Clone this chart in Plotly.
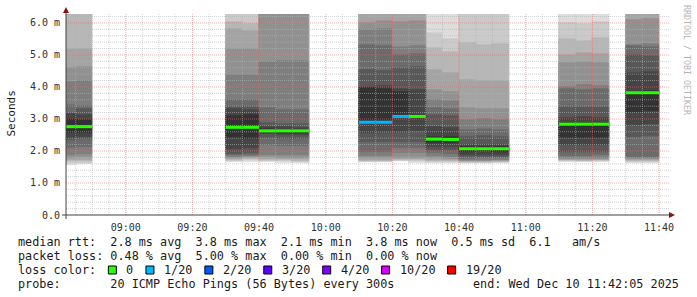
import plotly.graph_objects as go

# ---------------- data ----------------
interval_start = ["08:40", "08:45", "09:30", "09:35", "09:40", "09:45", "09:50",
                  "10:10", "10:15", "10:20", "10:25", "10:30", "10:35",
                  "10:40", "10:45", "10:50", "11:10", "11:15", "11:20",
                  "11:30", "11:35"]

# median rtt per 5-minute step (ms)
median_ms = [2.76, 2.76, 2.74, 2.74, 2.63, 2.63, 2.63,
             2.90, 2.90, 3.08, 3.08, 2.37, 2.36,
             2.07, 2.07, 2.07, 2.84, 2.84, 2.84,
             3.82, 3.82]

# lost pings (out of 20) per step
lost_pings = [0, 0, 0, 0, 0, 0, 0,
              1, 1, 1, 0, 0, 0,
              0, 0, 0, 0, 0, 0,
              0, 0]

# 20 sorted ping times per step (ms); None = lost ping
pings_0840 = [1.56, 1.62, 1.68, 1.72, 1.78, 1.88, 2.10, 2.33, 2.42, 2.55, 3.00, 3.15, 3.20, 3.45, 4.15, 4.60, 5.20, 6.60, 7.40, 8.90]
pings_0845 = [1.58, 1.63, 1.68, 1.73, 1.80, 1.90, 2.12, 2.36, 2.44, 2.56, 2.98, 3.12, 3.30, 3.42, 4.18, 4.62, 5.18, 6.55, 7.30, 8.70]
pings_0930 = [1.65, 1.70, 1.73, 1.76, 1.79, 1.82, 1.86, 1.92, 2.05, 2.40, 3.10, 3.30, 3.36, 3.60, 4.38, 5.20, 5.80, 6.02, 6.90, 8.10]
pings_0935 = [1.66, 1.71, 1.74, 1.77, 1.80, 1.83, 1.87, 1.94, 2.08, 2.38, 3.12, 3.28, 3.36, 3.58, 4.36, 5.18, 5.76, 5.96, 6.50, 7.90]
pings_0940 = [1.65, 1.69, 1.72, 1.75, 1.80, 1.88, 2.19, 2.40, 2.52, 2.58, 2.68, 2.76, 2.88, 3.34, 4.78, 6.40, 6.90, 7.50, 8.20, 9.00]
pings_0945 = [1.64, 1.68, 1.71, 1.75, 1.79, 1.86, 2.17, 2.38, 2.50, 2.57, 2.67, 2.74, 2.84, 3.28, 4.82, 6.45, 7.00, 7.60, 8.30, 9.10]
pings_0950 = [1.63, 1.67, 1.70, 1.74, 1.78, 1.86, 2.16, 2.37, 2.49, 2.56, 2.66, 2.73, 2.83, 3.27, 4.81, 6.50, 7.10, 7.70, 8.40, 9.20]
pings_1010 = [1.62, 1.65, 1.68, 1.72, 1.78, 1.84, 1.97, 2.28, 2.56, 2.90, 3.96, 4.00, 4.53, 5.31, 5.78, 6.00, 6.60, 7.40, 8.50, None]
pings_1015 = [1.63, 1.66, 1.69, 1.73, 1.79, 1.85, 1.98, 2.27, 2.58, 2.91, 3.95, 4.02, 4.50, 5.28, 5.80, 6.05, 6.70, 7.50, 8.60, None]
pings_1020 = [1.66, 1.69, 1.72, 1.75, 1.78, 1.94, 2.10, 2.28, 2.60, 3.08, 3.85, 3.95, 4.60, 5.00, 5.25, 6.03, 6.80, 7.60, 8.80, None]
pings_1025 = [1.64, 1.68, 1.71, 1.74, 1.78, 1.93, 2.09, 2.27, 2.62, 3.02, 3.14, 3.90, 4.62, 5.02, 5.28, 6.05, 6.90, 7.70, 8.90, 9.60]
pings_1030 = [1.62, 1.66, 1.69, 1.72, 1.78, 1.84, 1.94, 2.03, 2.13, 2.25, 2.44, 2.75, 3.12, 3.34, 3.60, 3.90, 4.53, 5.22, 5.69, 6.90]
pings_1035 = [1.62, 1.65, 1.68, 1.71, 1.76, 1.82, 1.92, 2.02, 2.12, 2.24, 2.44, 2.72, 3.08, 3.30, 3.55, 3.85, 4.45, 5.10, 5.50, 6.80]
pings_1040 = [1.62, 1.64, 1.66, 1.68, 1.70, 1.72, 1.76, 1.80, 1.88, 1.98, 2.12, 2.18, 2.44, 2.66, 2.97, 3.34, 4.22, 5.38, 6.60, 7.50]
pings_1045 = [1.62, 1.64, 1.66, 1.68, 1.70, 1.73, 1.77, 1.81, 1.89, 1.99, 2.13, 2.20, 2.46, 2.68, 3.00, 3.30, 4.18, 5.30, 6.60, 7.60]
pings_1050 = [1.63, 1.65, 1.67, 1.69, 1.71, 1.73, 1.77, 1.81, 1.88, 1.98, 2.12, 2.19, 2.45, 2.67, 2.98, 3.32, 4.20, 5.34, 6.70, 7.80]
pings_1110 = [1.66, 1.69, 1.71, 1.73, 1.75, 1.78, 1.84, 1.97, 2.19, 2.40, 2.88, 3.03, 3.38, 3.95, 4.00, 4.75, 5.00, 5.50, 6.00, 6.90]
pings_1115 = [1.65, 1.68, 1.70, 1.72, 1.74, 1.77, 1.85, 1.98, 2.20, 2.42, 2.87, 3.05, 3.36, 3.92, 4.05, 4.78, 5.05, 5.45, 5.98, 7.10]
pings_1120 = [1.66, 1.69, 1.71, 1.73, 1.75, 1.78, 1.86, 1.96, 2.18, 2.41, 2.86, 3.04, 3.37, 3.94, 4.02, 4.74, 5.02, 5.52, 6.02, 7.00]
pings_1130 = [1.62, 1.65, 1.68, 1.71, 1.74, 1.77, 1.81, 2.44, 2.81, 3.22, 3.84, 4.44, 5.00, 5.28, 5.31, 6.10, 6.60, 7.20, 8.10, 9.30]
pings_1135 = [1.63, 1.66, 1.69, 1.72, 1.75, 1.78, 1.82, 2.46, 2.83, 3.24, 3.86, 4.46, 4.98, 5.26, 5.33, 6.12, 6.70, 7.30, 8.20, 9.40]

smoke = [pings_0840, pings_0845, pings_0930, pings_0935, pings_0940, pings_0945,
         pings_0950, pings_1010, pings_1015, pings_1020, pings_1025, pings_1030,
         pings_1035, pings_1040, pings_1045, pings_1050, pings_1110, pings_1115,
         pings_1120, pings_1130, pings_1135]

loss_levels = [0, 1, 2, 3, 4, 10, 19]
loss_labels = ["0", "1/20", "2/20", "3/20", "4/20", "10/20", "19/20"]
loss_colors = ["#26ff00", "#00b8ff", "#0059ff", "#5e00ff", "#7e00ff", "#dd00ff", "#ff0000"]

y_tick_vals = [0, 1, 2, 3, 4, 5, 6]
y_tick_text = ["0.0", "1.0 m", "2.0 m", "3.0 m", "4.0 m", "5.0 m", "6.0 m"]
x_tick_text = ["09:00", "09:20", "09:40", "10:00", "10:20", "10:40", "11:00", "11:20", "11:40"]

end_time = "11:42:05"
line_rtt = "median rtt:  2.8 ms avg  3.8 ms max  2.1 ms min  3.8 ms now  0.5 ms sd  6.1   am/s"
line_loss = "packet loss: 0.48 % avg  5.00 % max  0.00 % min  0.00 % now"
line_color = "loss color:"
line_probe = "probe:       20 ICMP Echo Pings (56 Bytes) every 300s"
line_end = "end: Wed Dec 10 11:42:05 2025"
y_label = "Seconds"
watermark = "RRDTOOL / TOBI OETIKER"

# ---------------- geometry ----------------
W, H = 697, 297
PL, PR, PT, PB = 66, 669, 14, 215
PX_PER_MIN = 600 / 180.0
Y_MAX = 6.28
STEP = 5
MONO = "DejaVu Sans Mono"
FS = 11.8
ADV = 0.602 * FS


def hm(s):
    p = [int(v) for v in s.split(":")]
    return p[0] * 60 + p[1] + (p[2] / 60.0 if len(p) > 2 else 0)


x_end = hm(end_time)
x_start = x_end - 180
x_right = x_start + (PR - PL) / PX_PER_MIN


def px(x):
    return (x - PL) / (PR - PL)


def py(y):
    return (PB - y) / (PB - PT)


def nbsp(s):
    return s.replace(" ", "\u00a0")


fig = go.Figure()

# smoke bands
for k in range(1, 11):
    shade = int(190 / 10 * (10 - k)) + 50
    col = f"rgb({shade},{shade},{shade})"
    xs, bases, hs = [], [], []
    for start, p in zip(interval_start, smoke):
        lo, hi = p[k - 1], p[20 - k]
        if lo is None or hi is None:
            continue
        xs.append(hm(start) + STEP / 2)
        bases.append(lo)
        hs.append(hi - lo)
    fig.add_trace(go.Bar(x=xs, y=hs, base=bases, width=STEP,
                         marker=dict(color=col, line=dict(color=col, width=0.6)),
                         hoverinfo="skip", showlegend=False))

# grid lines (drawn over the smoke, like rrdtool)
minor_x = [t for t in range(525, 705, 5) if t % 20 != 0 and x_start < t < x_right]
major_x = [t for t in range(540, 705, 20)]
minor_y = [round(0.2 * i, 1) for i in range(1, 32) if i % 5 != 0]
major_y = [1, 2, 3, 4, 5, 6]


def grid_xy(vx, vy):
    gx, gy = [], []
    for t in vx:
        gx += [t, t, None]
        gy += [0, Y_MAX, None]
    for v in vy:
        gx += [x_start, x_right, None]
        gy += [v, v, None]
    return gx, gy


gx, gy = grid_xy(minor_x, minor_y)
fig.add_trace(go.Scatter(x=gx, y=gy, mode="lines",
                         line=dict(color="rgba(180,180,180,0.6)", width=1, dash="1px,1px"),
                         hoverinfo="skip", showlegend=False))
gx, gy = grid_xy(major_x, major_y)
fig.add_trace(go.Scatter(x=gx, y=gy, mode="lines",
                         line=dict(color="rgba(225,110,110,0.55)", width=1, dash="1px,1px"),
                         hoverinfo="skip", showlegend=False))


# median lines colored by loss
def loss_color(n):
    c = loss_colors[0]
    for lv, cc in zip(loss_levels, loss_colors):
        if n >= lv:
            c = cc
    return c


segs = {}
for start, m, lost in zip(interval_start, median_ms, lost_pings):
    c = loss_color(lost)
    sx, sy = segs.setdefault(c, ([], []))
    t = hm(start)
    sx += [t, t + STEP, None]
    sy += [m, m, None]
for c, (sx, sy) in segs.items():
    fig.add_trace(go.Scatter(x=sx, y=sy, mode="lines", line=dict(color=c, width=3),
                             hoverinfo="skip", showlegend=False))

shapes = []
axis_col = "#404040"
arrow_col = "#8b1010"
# axes lines
shapes.append(dict(type="line", xref="paper", yref="paper", x0=px(62), x1=px(670),
                   y0=0, y1=0, line=dict(color=axis_col, width=1), layer="above"))
shapes.append(dict(type="line", xref="paper", yref="paper", x0=0, x1=0,
                   y0=py(219), y1=py(11), line=dict(color=axis_col, width=1), layer="above"))
# arrows
shapes.append(dict(type="path", xref="paper", yref="paper",
                   path=f"M {px(66)},{py(7)} L {px(63)},{py(13)} L {px(69)},{py(13)} Z",
                   fillcolor=arrow_col, line=dict(width=0), layer="above"))
shapes.append(dict(type="path", xref="paper", yref="paper",
                   path=f"M {px(675)},{py(215)} L {px(669)},{py(212)} L {px(669)},{py(218)} Z",
                   fillcolor=arrow_col, line=dict(width=0), layer="above"))

annotations = []
rows_y = [241.5, 255.8, 270.0, 284.3]
text_col = "#1a1a1a"


def add_text(txt, x, y, anchor="left", size=FS, color=text_col, angle=0):
    annotations.append(dict(text=nbsp(txt), xref="paper", yref="paper",
                            x=px(x), y=py(y), xanchor=anchor, yanchor="middle",
                            showarrow=False, textangle=angle,
                            font=dict(family=MONO, size=size, color=color)))


add_text(line_rtt, 16, rows_y[0])
add_text(line_loss, 16, rows_y[1])
add_text(line_color, 16, rows_y[2])
add_text(line_probe, 16, rows_y[3])
add_text(line_end, 681, rows_y[3], anchor="right")

# loss colour legend boxes
bx = 16 + 13 * ADV
for lab, col in zip(loss_labels, loss_colors):
    shapes.append(dict(type="rect", xref="paper", yref="paper",
                       x0=px(bx), x1=px(bx + 8), y0=py(rows_y[2] + 4), y1=py(rows_y[2] - 4),
                       fillcolor=col, line=dict(color="#000000", width=1), layer="above"))
    tx = bx + 16
    add_text(lab, tx, rows_y[2])
    bx = tx + len(lab) * ADV + 14.5

add_text(y_label, 11, 113.5, anchor="center", size=11, angle=-90)
annotations.append(dict(text=nbsp(watermark), xref="paper", yref="paper",
                        x=px(687), y=py(60), xanchor="center", yanchor="middle",
                        showarrow=False, textangle=90,
                        font=dict(family=MONO, size=8.3, color="#b5b5b5")))

fig.update_layout(
    width=W, height=H,
    margin=dict(l=PL, r=W - PR, t=PT, b=H - PB, pad=0),
    paper_bgcolor="white", plot_bgcolor="white",
    barmode="overlay", bargap=0, showlegend=False,
    shapes=shapes, annotations=annotations,
    xaxis=dict(range=[x_start, x_right], tickvals=major_x, ticktext=x_tick_text,
               showgrid=False, zeroline=False, showline=False,
               ticks="outside", ticklen=3, tickcolor="rgba(0,0,0,0)",
               tickfont=dict(family=MONO, size=10, color="#303030")),
    yaxis=dict(range=[0, Y_MAX], tickvals=y_tick_vals, ticktext=y_tick_text,
               showgrid=False, zeroline=False, showline=False,
               ticks="outside", ticklen=3, tickcolor="rgba(0,0,0,0)",
               tickfont=dict(family=MONO, size=10, color="#303030")),
)

fig.write_html("out.html")
